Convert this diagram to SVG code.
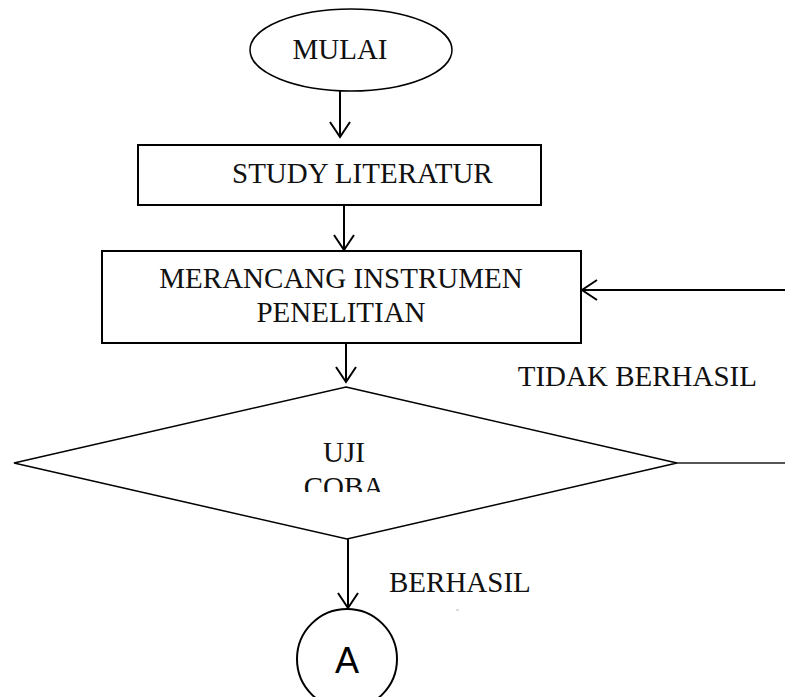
<svg xmlns="http://www.w3.org/2000/svg" width="785" height="697" viewBox="0 0 785 697">
  <style>
    .shape { fill: #ffffff; stroke: #000000; stroke-width: 2; }
    .thin { fill: #ffffff; stroke: #000000; stroke-width: 1.5; }
    .lbl { font-family: "Liberation Serif", "Times New Roman", serif; font-size: 29px; fill: #111111; }
    .sans { font-family: "Liberation Sans", Arial, sans-serif; font-size: 36px; fill: #000000; }
    .conn { stroke: #000000; stroke-width: 2; fill: none; }
  </style>
  <defs>
    <marker id="vhead" viewBox="-17 -12 19 24" refX="0" refY="0" markerWidth="19" markerHeight="24" markerUnits="userSpaceOnUse" orient="auto">
      <path d="M-15,-10 L0,0 L-15,10" fill="none" stroke="#000000" stroke-width="2"/>
    </marker>
    <clipPath id="clipCoba">
      <rect x="0" y="420" width="785" height="72"/>
    </clipPath>
  </defs>
  <rect width="785" height="697" fill="#ffffff"/>

  <g id="connectors">
    <line class="conn" x1="340" y1="91" x2="340" y2="137" marker-end="url(#vhead)"/>
    <line class="conn" x1="344" y1="205" x2="344" y2="250" marker-end="url(#vhead)"/>
    <line class="conn" x1="346" y1="343" x2="346" y2="382" marker-end="url(#vhead)"/>
    <line class="conn" x1="348" y1="539" x2="348" y2="608" marker-end="url(#vhead)"/>
    <line x1="677" y1="463" x2="785" y2="463" stroke="#555555" stroke-width="2.2"/>
    <line class="conn" x1="785" y1="290" x2="582" y2="290" marker-end="url(#vhead)"/>
  </g>

  <g id="mulai">
    <ellipse class="thin" cx="351" cy="50" rx="101" ry="41"/>
    <text class="lbl" x="340" y="59" text-anchor="middle">MULAI</text>
  </g>

  <g id="study">
    <rect class="shape" x="138" y="145" width="403" height="60"/>
    <text class="lbl" x="232" y="183">STUDY LITERATUR</text>
  </g>

  <g id="merancang">
    <rect class="shape" x="102" y="251" width="479" height="92"/>
    <text class="lbl" x="341" y="288" text-anchor="middle">MERANCANG INSTRUMEN</text>
    <text class="lbl" x="341" y="322" text-anchor="middle">PENELITIAN</text>
  </g>

  <g id="ujicoba">
    <polygon class="thin" points="346,387 677,463 347,539 14,463"/>
    <text class="lbl" x="344" y="462" text-anchor="middle">UJI</text>
    <text class="lbl" x="344" y="497" text-anchor="middle" clip-path="url(#clipCoba)">COBA</text>
  </g>

  <g id="labels">
    <text class="lbl" x="757" y="386" text-anchor="end">TIDAK BERHASIL</text>
    <text class="lbl" x="389" y="592">BERHASIL</text>
    <line x1="456" y1="610" x2="459" y2="610" stroke="#bbbbbb" stroke-width="1"/>
  </g>

  <g id="connectorA">
    <circle class="shape" cx="347" cy="659" r="50"/>
    <text class="sans" x="347" y="673" text-anchor="middle">A</text>
  </g>
</svg>
